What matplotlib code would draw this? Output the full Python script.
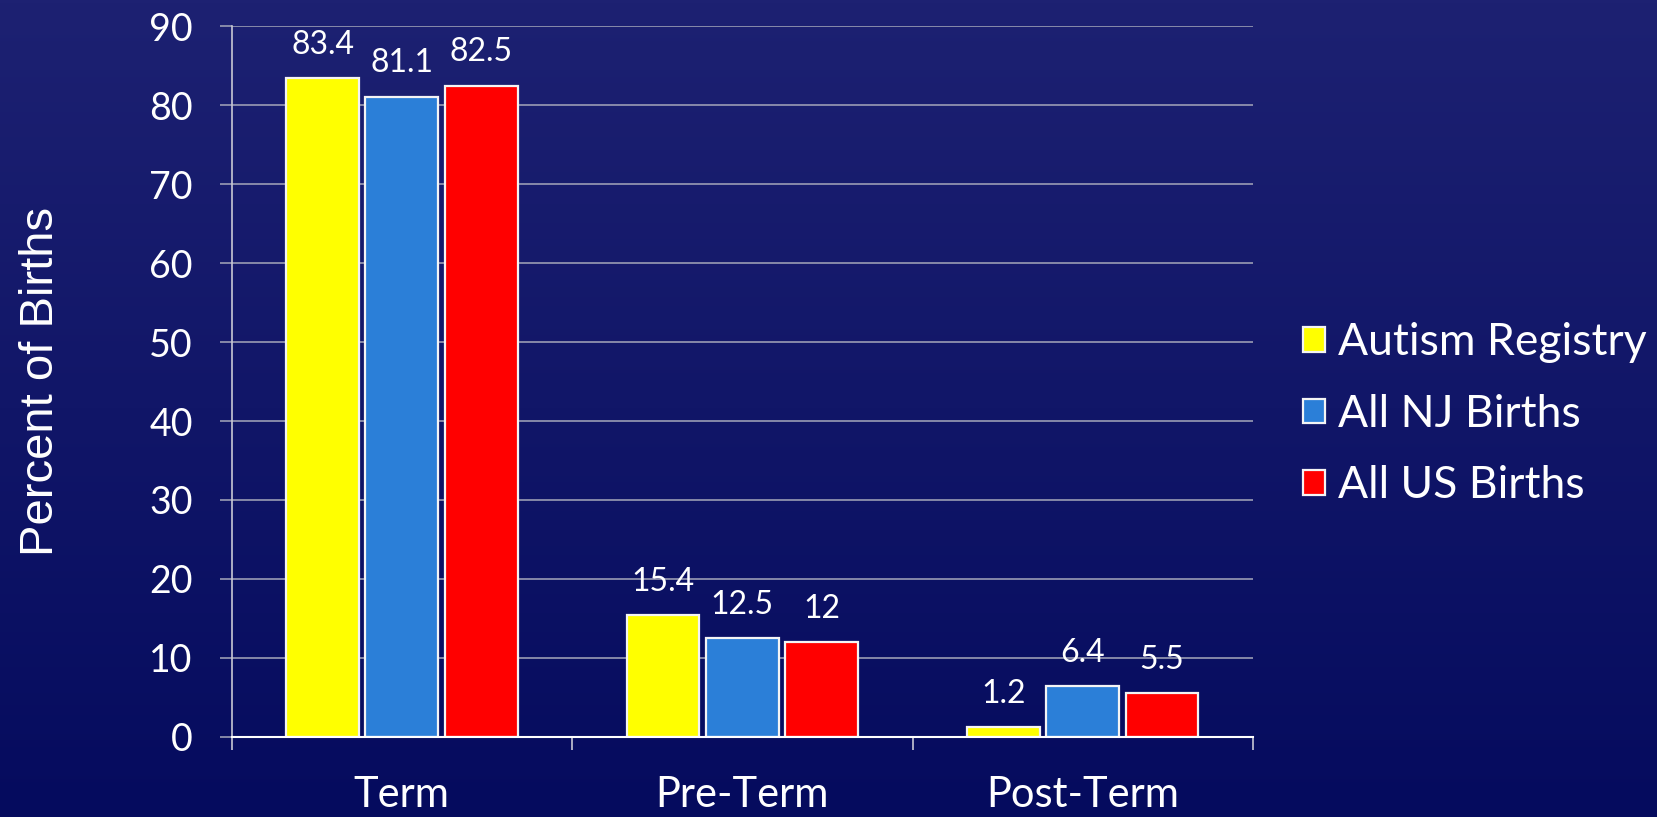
import numpy as np
import matplotlib.pyplot as plt
import matplotlib.colors as mcolors

categories = ["Term", "Pre-Term", "Post-Term"]
series = ["Autism Registry", "All NJ Births", "All US Births"]
autism = [83.4, 15.4, 1.2]
nj = [81.1, 12.5, 6.4]
us = [82.5, 12, 5.5]
labels_autism = ["83.4", "15.4", "1.2"]
labels_nj = ["81.1", "12.5", "6.4"]
labels_us = ["82.5", "12", "5.5"]
yticks = [0, 10, 20, 30, 40, 50, 60, 70, 80, 90]
colors = ["#ffff00", "#2b7fd8", "#ff0000"]

plt.rcParams['font.family'] = ['Lato', 'DejaVu Sans']

fig = plt.figure(figsize=(16.58, 8.17), dpi=100)

# gradient background
bg = fig.add_axes([0, 0, 1, 1], zorder=-1)
cmap = mcolors.LinearSegmentedColormap.from_list("bg", ["#1d2172", "#050b5e"])
bg.imshow(np.linspace(0, 1, 256).reshape(-1, 1), aspect='auto', cmap=cmap,
          extent=[0, 1, 0, 1])
bg.axis('off')

ax = fig.add_axes([0.1397, 0.0983, 0.616, 0.8694])
ax.set_facecolor('none')

x = np.arange(len(categories)) + 0.5
w = 0.214
step = 0.233
vals = [autism, nj, us]
labs = [labels_autism, labels_nj, labels_us]
for i in range(3):
    xs = x + (i - 1) * step
    bars = ax.bar(xs, vals[i], width=w, color=colors[i], edgecolor='#f4f4f4',
                  linewidth=1.6, label=series[i], zorder=3)
    for b, t in zip(bars, labs[i]):
        ax.annotate(t, (b.get_x() + b.get_width() / 2, b.get_height()),
                    xytext=(0, 24), textcoords='offset points',
                    ha='center', va='center', color='white', fontsize=23,
                    zorder=4)

ax.set_xlim(0, 3)
ax.set_ylim(0, 90)
ax.set_yticks(yticks)
ax.yaxis.grid(True, color='#9a9cb4', linewidth=1.2, zorder=0)
ax.tick_params(axis='y', colors='#9a9cb4', length=9, width=1.2, pad=19,
               labelcolor='white', labelsize=27)

ax.set_xticks([0, 1, 2, 3])
ax.set_xticklabels([])
ax.set_xticks(x, minor=True)
ax.set_xticklabels(categories, minor=True)
ax.tick_params(axis='x', which='major', colors='#c8c8d4', length=9, width=1.2)
ax.tick_params(axis='x', which='minor', length=0, pad=28, labelcolor='white',
               labelsize=30)

for s in ['top', 'right']:
    ax.spines[s].set_visible(False)
ax.spines['left'].set_color('#c8c8d4')
ax.spines['left'].set_linewidth(1.2)
ax.spines['bottom'].set_color('white')
ax.spines['bottom'].set_linewidth(1.5)
ax.spines['bottom'].set_zorder(5)

ax.set_ylabel("Percent of Births", fontsize=34, color='white',
              family='Liberation Sans', labelpad=62)

leg = ax.legend(loc='center left', bbox_to_anchor=(0.786, 0.493),
                bbox_transform=fig.transFigure, frameon=False, fontsize=32,
                handlelength=0.48, handleheight=0.48, handletextpad=0.3,
                labelspacing=0.69, borderpad=0, borderaxespad=0)
for t in leg.get_texts():
    t.set_color('white')

fig.savefig("out.png", dpi=100)
